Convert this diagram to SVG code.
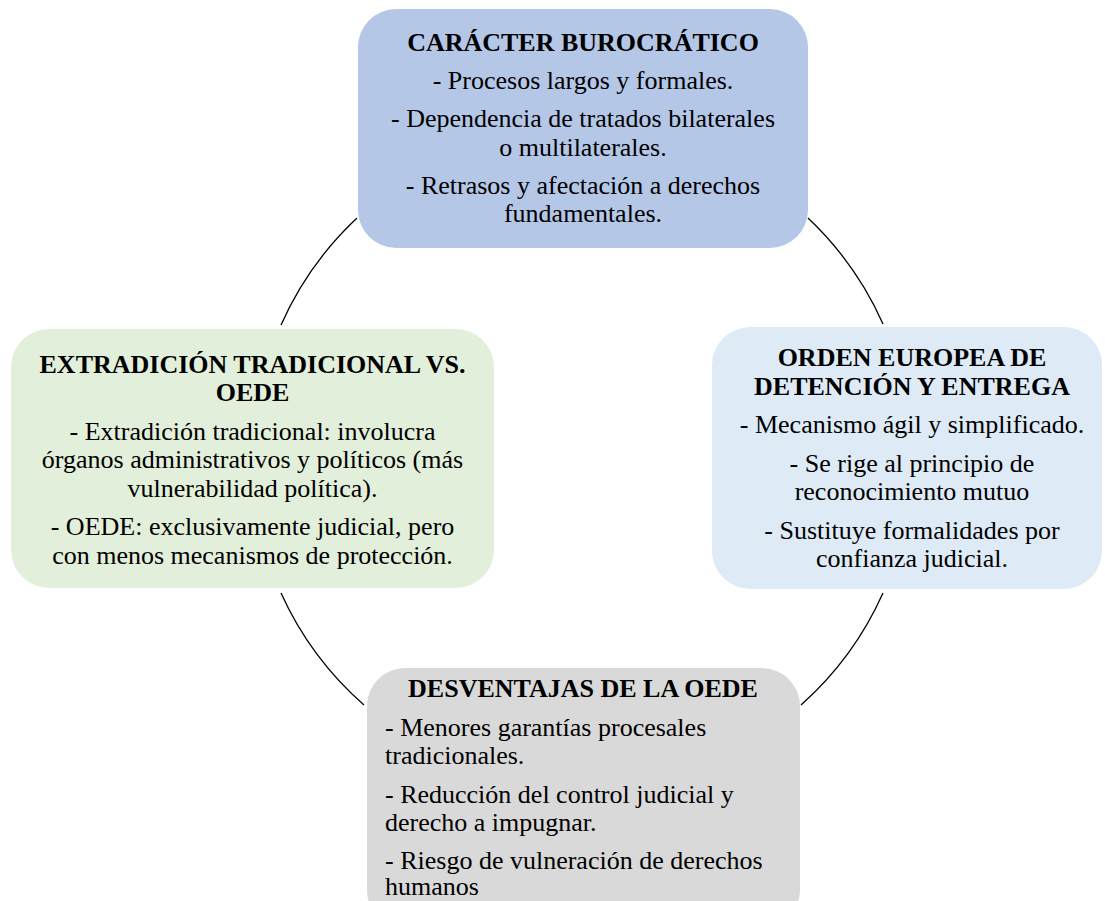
<svg xmlns="http://www.w3.org/2000/svg" width="1105" height="901" viewBox="0 0 1105 901">
<style>
.t{font-family:"Liberation Serif","Times New Roman",serif;font-size:26px;fill:#000;text-anchor:middle}
.b{font-weight:bold}
.l{text-anchor:start}
.c{fill:none;stroke:#000;stroke-width:1.3}
</style>
<rect width="1105" height="901" fill="#fff"/>
<g id="connectors">
<path class="c" d="M281,325 A330,330 0 0 1 357,218"/>
<path class="c" d="M808,218 A330,330 0 0 1 883,324"/>
<path class="c" d="M883,593 A330,330 0 0 1 801,705"/>
<path class="c" d="M364,705 A330,330 0 0 1 281,593"/>
</g>
<g id="node-top">
<rect x="358" y="9" width="450" height="239" rx="38" fill="#B4C7E7"/>
<text class="t b" x="583" y="51">CARÁCTER BUROCRÁTICO</text>
<text class="t" x="583" y="89">- Procesos largos y formales.</text>
<text class="t" x="583" y="127">- Dependencia de tratados bilaterales</text>
<text class="t" x="583" y="155.5">o multilaterales.</text>
<text class="t" x="583" y="193.5">- Retrasos y afectación a derechos</text>
<text class="t" x="583" y="222">fundamentales.</text>
</g>
<g id="node-right">
<rect x="712" y="327" width="390" height="262" rx="38" fill="#DEEBF7"/>
<text class="t b" x="912" y="366">ORDEN EUROPEA DE</text>
<text class="t b" x="912" y="394.5">DETENCIÓN Y ENTREGA</text>
<text class="t" x="912" y="433">- Mecanismo ágil y simplificado.</text>
<text class="t" x="912" y="471.5">- Se rige al principio de</text>
<text class="t" x="912" y="500">reconocimiento mutuo</text>
<text class="t" x="912" y="538.5">- Sustituye formalidades por</text>
<text class="t" x="912" y="567">confianza judicial.</text>
</g>
<g id="node-left">
<rect x="11" y="329" width="483" height="259" rx="38" fill="#E2EFDA"/>
<text class="t b" x="252.5" y="372.5">EXTRADICIÓN TRADICIONAL VS.</text>
<text class="t b" x="252.5" y="401">OEDE</text>
<text class="t" x="252.5" y="439.5">- Extradición tradicional: involucra</text>
<text class="t" x="252.5" y="468">órganos administrativos y políticos (más</text>
<text class="t" x="252.5" y="496.5">vulnerabilidad política).</text>
<text class="t" x="252.5" y="535">- OEDE: exclusivamente judicial, pero</text>
<text class="t" x="252.5" y="563.5">con menos mecanismos de protección.</text>
</g>
<g id="node-bottom">
<rect x="367" y="668" width="433" height="260" rx="38" fill="#D9D9D9"/>
<text class="t b" x="583" y="697">DESVENTAJAS DE LA OEDE</text>
<text class="t l" x="385" y="735.5">- Menores garantías procesales</text>
<text class="t l" x="385" y="764">tradicionales.</text>
<text class="t l" x="385" y="802.5">- Reducción del control judicial y</text>
<text class="t l" x="385" y="831">derecho a impugnar.</text>
<text class="t l" x="385" y="868.5">- Riesgo de vulneración de derechos</text>
<text class="t l" x="385" y="895">humanos</text>
</g>
</svg>
